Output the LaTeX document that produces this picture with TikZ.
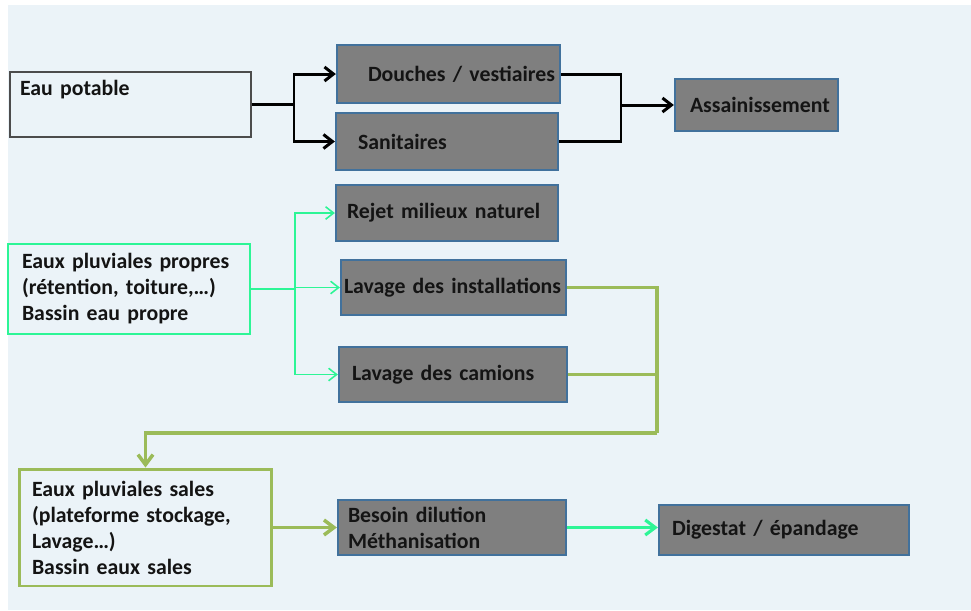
\documentclass[tikz,border=0pt]{standalone}
\usepackage{fontspec}
\setmainfont{Carlito}
\usepackage{tikz}
\usepackage{xcolor}
\usetikzlibrary{arrows.meta,calc}

\definecolor{bgblue}{RGB}{235,243,248}
\definecolor{boxgrey}{RGB}{127,127,127}
\definecolor{boxblue}{RGB}{65,113,156}
\definecolor{mint}{RGB}{45,245,150}
\definecolor{olivegreen}{RGB}{155,187,89}
\definecolor{txt}{RGB}{20,20,20}
\newcommand{\indt}[1]{\hspace*{#1}}

\begin{document}
\begin{tikzpicture}[
      x=0.02cm, y=-0.02cm,
      every node/.style={text=txt, font=\bfseries\fontsize{12.4}{14.8}\selectfont},
      gbox/.style={draw=boxblue, fill=boxgrey, line width=1.3pt, inner xsep=0pt, inner ysep=0pt, align=left},
      srcbox/.style={inner xsep=0pt, inner ysep=0pt, align=left},
      blk/.style={line width=1.7pt, black},
      blkarr/.style={blk, -{Straight Barb[length=1.8mm, width=2.8mm]}},
      thin mint/.style={line width=0.9pt, mint, -{Straight Barb[length=1.6mm, width=2.5mm]}},
      olv/.style={line width=2pt, olivegreen},
      olvarr/.style={olv, -{Straight Barb[length=2mm, width=3mm]}},
      mintarr/.style={line width=1.8pt, mint, -{Straight Barb[length=2mm, width=3mm]}}
  ]
    \useasboundingbox (0,0) rectangle (971,610);
    \fill[bgblue] (8,5) rectangle (971,610);

    % sources
    \node[srcbox, draw=black!70, line width=0.6pt, text width=4.82cm, minimum height=1.30cm] (potable) at (130.5,104.5) {\indt{0.2cm}Eau potable\\\strut};
    \node[srcbox, draw=mint, line width=1.1pt, text width=4.84cm, minimum height=1.80cm] (propres) at (129,289) {
      \indt{0.28cm}Eaux pluviales propres\\
      \indt{0.28cm}(rétention, toiture,…)\\
      \indt{0.28cm}Bassin eau propre
    };
    \node[srcbox, draw=olivegreen, line width=1.7pt, text width=5.06cm, minimum height=2.34cm] (sales) at (145.5,527.5) {
      \indt{0.26cm}Eaux pluviales sales\\
      \indt{0.26cm}(plateforme stockage,\\
      \indt{0.26cm}Lavage…)\\
      \indt{0.26cm}Bassin eaux sales
    };

    % uses
    \node[gbox, text width=4.46cm, minimum height=1.16cm] (douches) at (448.5,74) {\indt{0.62cm}Douches / vestiaires};
    \node[gbox, text width=4.44cm, minimum height=1.14cm] (sanit) at (447,141.5) {\indt{0.44cm}Sanitaires};
    \node[gbox, text width=3.26cm, minimum height=1.04cm] (assain) at (756.5,105) {\indt{0.3cm}Assainissement};
    \node[gbox, text width=4.44cm, minimum height=1.12cm] (rejet) at (447,213) {\indt{0.22cm}Rejet milieux naturel};
    \node[gbox, text width=4.50cm, minimum height=1.10cm] (lavinst) at (453.5,287.5) {\indt{0.06cm}Lavage des installations};
    \node[gbox, text width=4.56cm, minimum height=1.10cm] (camions) at (453,374.5) {\indt{0.26cm}Lavage des camions};
    \node[gbox, text width=4.56cm, minimum height=1.10cm] (besoin) at (452,527.5) {
      \indt{0.2cm}Besoin dilution\\
      \indt{0.2cm}Méthanisation
    };
    \node[gbox, text width=5.00cm, minimum height=1.00cm] (digestat) at (784,530) {\indt{0.26cm}Digestat / épandage};

    % junctions
    \coordinate (jpot) at (294,0);
    \coordinate (jass) at (621,0);
    \coordinate (jpro) at (295,0);
    \coordinate (jsal) at (657,433);

    % eau potable
    \draw[blkarr] (potable.east) -- (potable.east -| jpot) |- (douches.west);
    \draw[blkarr] (potable.east -| jpot) |- (sanit.west);
    \draw[blk] (douches.east) -- (douches.east -| jass) -- (sanit.east -| jass) -- (sanit.east);
    \draw[blkarr] (assain.west -| jass) -- (assain.west);

    % eaux propres
    \draw[thin mint] (propres.east) -- (propres.east -| jpro) |- (rejet.west);
    \draw[thin mint] (propres.east -| jpro) |- (lavinst.west);
    \draw[thin mint] (propres.east -| jpro) |- (camions.west);

    % eaux sales
    \draw[olv] (lavinst.east) -| (jsal);
    \draw[olv] (camions.east) -- (camions.east -| jsal);
    \draw[olvarr] (jsal) -| (sales.north);
    \draw[olvarr] (sales.east) -- (besoin.west);
    \draw[mintarr] (besoin.east) -- (besoin.east -| digestat.west);
  \end{tikzpicture}
\end{document}
